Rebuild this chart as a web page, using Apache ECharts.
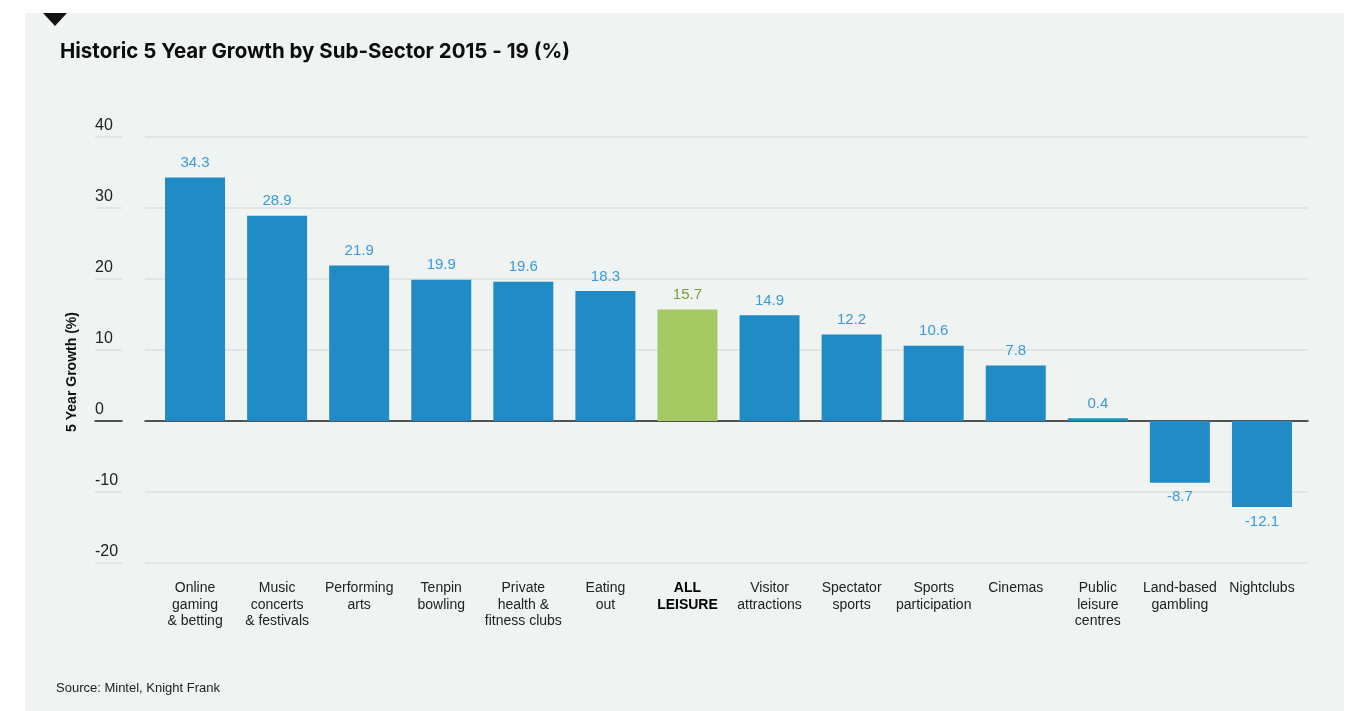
<!DOCTYPE html>
<html>
<head>
<meta charset="utf-8">
<script src="https://cdn.jsdelivr.net/npm/echarts@6/dist/echarts.min.js"></script>
<style>
html,body{margin:0;padding:0;background:#ffffff;}
#chart{width:1351px;height:711px;}
</style>
</head>
<body>
<div id="chart"></div>
<script>
const categories = [
  'Online\ngaming\n& betting',
  'Music\nconcerts\n& festivals',
  'Performing\narts',
  'Tenpin\nbowling',
  'Private\nhealth &\nfitness clubs',
  'Eating\nout',
  'ALL\nLEISURE',
  'Visitor\nattractions',
  'Spectator\nsports',
  'Sports\nparticipation',
  'Cinemas',
  'Public\nleisure\ncentres',
  'Land-based\ngambling',
  'Nightclubs'
];
const growthValues = [34.3, 28.9, 21.9, 19.9, 19.6, 18.3, 15.7, 14.9, 12.2, 10.6, 7.8, 0.4, -8.7, -12.1];
const highlightCategory = 'ALL\nLEISURE';
const yTicks = { min: -20, max: 40, interval: 10 };

const FONT = '"Liberation Sans", Arial, sans-serif';
const TITLE_FONT = 'Inter, "Liberation Sans", Arial, sans-serif';
const BLUE = '#218bc5';
const BLUE_LABEL = '#3a9bd6';
const GREEN = '#a5c963';
const GREEN_LABEL = '#76a035';

const barData = growthValues.map((v, i) => {
  const hl = categories[i] === highlightCategory;
  return {
    value: v,
    itemStyle: { color: hl ? GREEN : BLUE },
    label: {
      position: v < 0 ? 'bottom' : 'top',
      color: hl ? GREEN_LABEL : BLUE_LABEL
    }
  };
});

const chart = echarts.init(document.getElementById('chart'), null, { renderer: 'canvas' });

const gridTop = 137, gridBottom = 148;

const option = {
  animation: false,
  textStyle: { fontFamily: FONT },
  title: {
    text: 'Historic 5 Year Growth by Sub-Sector 2015 - 19 (%)',
    left: 60, top: 41, padding: 0,
    textStyle: { fontFamily: TITLE_FONT, fontSize: 20.5, fontWeight: 'bold', color: '#0d0d0d' }
  },
  graphic: [
    { type: 'rect', z: -10, silent: true, shape: { x: 25, y: 13, width: 1319, height: 698 }, style: { fill: '#eff3f2' } },
    { type: 'polygon', z: 10, shape: { points: [[43, 13], [67, 13], [55, 26]] }, style: { fill: '#111111' } },
    { type: 'text', x: 72, y: 372, rotation: Math.PI / 2,
      style: { text: '5 Year Growth (%)', font: 'bold 14px ' + FONT, fill: '#111111', align: 'center', verticalAlign: 'middle' } },
    { type: 'text', x: 56, y: 688,
      style: { text: 'Source: Mintel, Knight Frank', font: '13px ' + FONT, fill: '#222222', align: 'left', verticalAlign: 'middle' } }
  ],
  grid: [
    { left: 95, width: 27, top: gridTop, bottom: gridBottom, containLabel: false },
    { left: 145, right: 43, top: gridTop, bottom: gridBottom, containLabel: false },
    { left: 154, right: 48, top: gridTop, bottom: gridBottom, containLabel: false }
  ],
  xAxis: [
    { gridIndex: 0, type: 'value', min: 0, max: 1, axisLabel: { show: false }, axisTick: { show: false }, splitLine: { show: false },
      axisLine: { show: true, onZero: true, lineStyle: { color: '#222222', width: 1.5 } } },
    { gridIndex: 1, type: 'value', min: 0, max: 1, axisLabel: { show: false }, axisTick: { show: false }, splitLine: { show: false },
      axisLine: { show: true, onZero: true, lineStyle: { color: '#222222', width: 1.5 } } },
    { gridIndex: 2, type: 'category', data: categories,
      axisLine: { show: false, onZero: false }, axisTick: { show: false },
      axisLabel: {
        interval: 0, margin: 17, color: '#222222', fontSize: 14, lineHeight: 16.5, fontFamily: FONT,
        verticalAlign: 'top',
        formatter: (v) => v === highlightCategory ? '{b|' + v.split('\n').join('}\n{b|') + '}' : v,
        rich: { b: { fontWeight: 'bold', color: '#000000', fontSize: 14, lineHeight: 16.5, fontFamily: FONT } }
      } }
  ],
  yAxis: [
    { gridIndex: 0, type: 'value', min: yTicks.min, max: yTicks.max, interval: yTicks.interval,
      axisLine: { show: false }, axisTick: { show: false },
      splitLine: { show: true, lineStyle: { color: '#dde0df', width: 1.5 } },
      axisLabel: { inside: true, margin: 0, align: 'left', verticalAlign: 'bottom', padding: [0, 0, 3, 0],
        color: '#222222', fontSize: 16, fontFamily: FONT } },
    { gridIndex: 1, type: 'value', min: yTicks.min, max: yTicks.max, interval: yTicks.interval,
      axisLine: { show: false }, axisTick: { show: false }, axisLabel: { show: false },
      splitLine: { show: true, lineStyle: { color: '#dde0df', width: 1.5 } } },
    { gridIndex: 2, type: 'value', min: yTicks.min, max: yTicks.max, interval: yTicks.interval,
      axisLine: { show: false }, axisTick: { show: false }, axisLabel: { show: false },
      splitLine: { show: false } }
  ],
  series: [
    {
      type: 'bar', xAxisIndex: 2, yAxisIndex: 2, data: barData, barWidth: 60, z: 5,
      label: { show: true, distance: 7, fontSize: 15, fontFamily: FONT, formatter: (p) => p.value.toFixed(1) }
    }
  ]
};
chart.setOption(option);
</script>
</body>
</html>
